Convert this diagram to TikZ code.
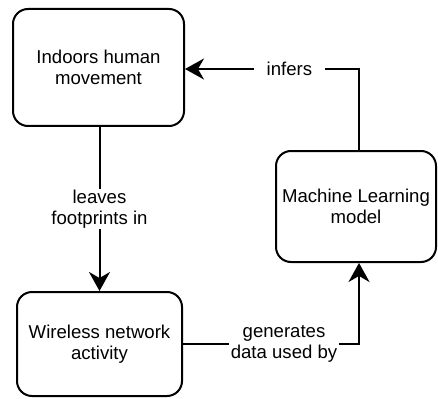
\documentclass[tikz,border=0pt]{standalone}
\usepackage{fontspec}
\setmainfont{Liberation Sans}
\usetikzlibrary{arrows.meta}
\begin{document}
\begin{tikzpicture}[x=1pt,y=-1pt,
  txt/.style={font=\fontsize{18.6}{21}\selectfont, align=center},
  box/.style={txt, draw, line width=2pt, rounded corners=15pt, inner sep=0pt},
  lbl/.style={txt, fill=white, inner xsep=2pt, inner ysep=1pt},
  conn/.style={line width=2pt, -{Stealth[length=19pt,width=21pt,inset=6pt]}}]
\useasboundingbox (0,0) rectangle (438,398);
\node[box, minimum width=171pt, minimum height=117pt] (A) at (98.5,67.5) {Indoors human\\movement};
\node[box, minimum width=165pt, minimum height=104pt] (W) at (99.5,344) {Wireless network\\activity};
\node[box, minimum width=160pt, minimum height=111pt] (M) at (356,206.5) {Machine Learning\\model};
\draw[conn] ([xshift=3pt]M.north) |- node[pos=0.7, lbl, inner xsep=13pt] {infers} ([yshift=-1.5pt]A.east);
\draw[conn] (A.south -| W.north) -- node[lbl] {leaves\\footprints in} (W.north);
\draw[conn] (W.east) -| node[pos=0.287, lbl] {generates\\data used by} ([xshift=3pt]M.south);
\end{tikzpicture}
\end{document}
